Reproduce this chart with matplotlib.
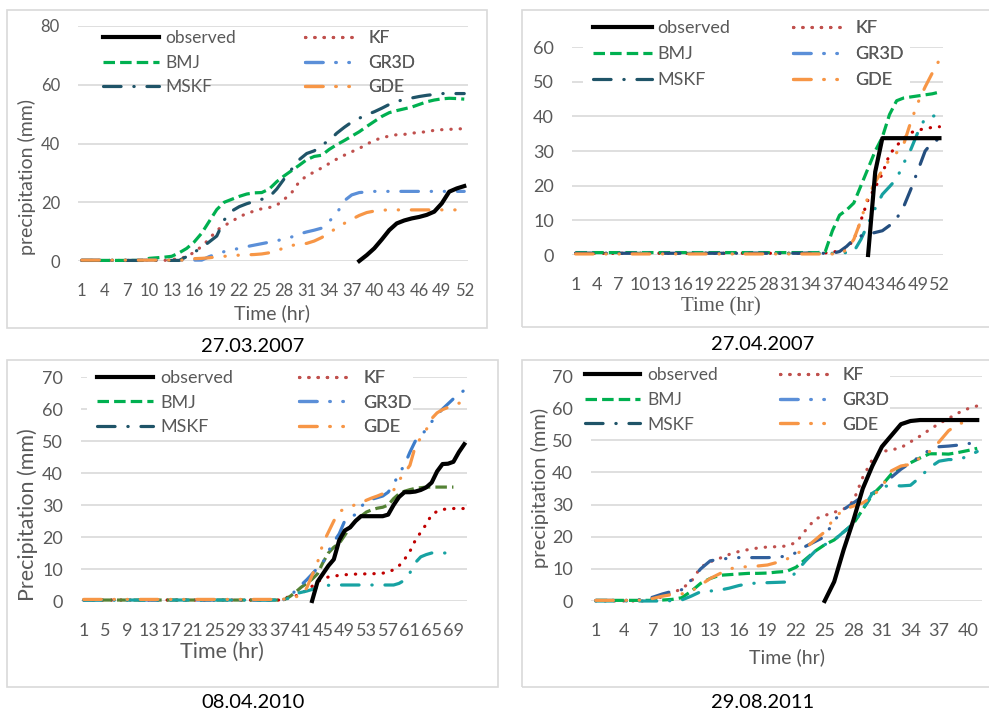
import numpy as np
import matplotlib
matplotlib.use('Agg')
import matplotlib.pyplot as plt
from matplotlib.lines import Line2D
from matplotlib.patches import Rectangle

W, H = 989, 717
plt.rcParams['font.family'] = 'Lato'

# ---------------- data (cumulative precipitation, mm) ----------------
# 27.03.2007, hours 1..52
hours_a = np.arange(1, 53)
obs_a = [None] * 37 + [0, 2, 4.3, 7.3, 10.5, 12.8, 13.8, 14.5, 15, 15.7, 16.8, 19.6, 23.6, 24.7, 25.5]
kf_a = [0.2, 0.2, 0.2, 0.2, 0.2, 0.2, 0.2, 0.2, 0.2, 0.2, 0.2, 0.2, 0.5, 0.8, 1.5, 3, 5, 7.5, 10.5, 12,
        13.5, 15, 16.2, 17, 17.8, 18.2, 19, 21, 23.3, 27, 29, 30.3, 31.7, 33.2, 34.7, 36, 37.2, 38.3, 39.8, 41,
        42, 42.5, 43, 43.1, 43.5, 43.8, 44, 44.5, 44.7, 44.8, 45, 45]
bmj_a = [0.2, 0.2, 0.2, 0.2, 0.2, 0.2, 0.2, 0.2, 0.2, 0.9, 1.1, 1.3, 1.6, 2.8, 4.3, 6.5, 9.5, 13.5, 17.5, 20,
         21, 22, 22.8, 23.2, 23.3, 24.5, 27, 29, 30.8, 32.6, 34.5, 35.6, 36, 38, 39.6, 41, 42.5, 44, 45.8, 47.5,
         49.2, 50.5, 51.2, 51.8, 52.4, 53.3, 54.2, 54.8, 55.2, 55.4, 55.3, 55.1]
gr3d_a = [0.3, 0.3, 0.3, 0.3, 0.3, 0.3, 0.3, 0.3, 0.3, 0.3, 0.3, 0.3, 0.3, 0.3, 0.3, 0.3, 0.3, 1.5, 2.4, 3.2,
          3.8, 4.3, 4.9, 5.4, 5.9, 6.4, 6.9, 7.5, 8.2, 9.2, 9.9, 10.5, 11.2, 13.5, 16.2, 20.5, 22.5, 23.3, 23.5, 23.7,
          23.7, 23.7, 23.7, 23.7, 23.7, 23.7, 23.7, 23.7, 23.7, 23.7, 23.7, 23.7]
mskf_a = [0.2, 0.2, 0.2, 0.2, 0.2, 0.2, 0.2, 0.2, 0.2, 0.2, 0.2, 0.2, 0.2, 0.2, 1.5, 3, 4.6, 6.5, 8.5, 14,
          17, 18.5, 19.5, 20.3, 21, 21.8, 24.5, 28, 31.3, 34.5, 36.6, 37.5, 39.5, 41, 43.5, 45.5, 47.3, 48.6, 49.8, 50.8,
          52, 53.3, 54.3, 55, 55.5, 56, 56.4, 56.7, 57, 57, 57, 57]
gde_a = [0.3, 0.3, 0.3, 0.3, 0.3, 0.3, 0.3, 0.3, 0.3, 0.3, 0.3, 0.3, 0.3, 0.3, 0.3, 0.8, 0.9, 1.1, 1.4, 1.6,
         1.8, 2, 2.1, 2.2, 2.4, 2.8, 3.5, 4.5, 5.3, 5.7, 6, 6.8, 8, 9.7, 11.2, 12.8, 14.2, 15.5, 16.5, 17,
         17.3, 17.4, 17.4, 17.4, 17.4, 17.4, 17.4, 17.4, 17.4, 17.4, 17.4, 17.4]

# 27.04.2007, hours 1..52
hours_b = np.arange(1, 53)
obs_b = [None] * 41 + [0, 24, 33.7, 33.7, 33.7, 33.7, 33.7, 33.7, 33.7, 33.7, 33.7]
kf_b = [0.5, 0.5, 0.5, 0.5, 0.5, 0.5, 0.5, 0.5, 0.5, 0.5, 0.5, 0.5, 0.5, 0.5, 0.5, 0.5, 0.5, 0.5, 0.5, 0.5,
        0.5, 0.5, 0.5, 0.5, 0.5, 0.5, 0.5, 0.5, 0.5, 0.5, 0.5, 0.5, 0.5, 0.5, 0.5, 0.6, 0.8, 1.2, 2, 4.4,
        10, 16, 19.5, 23.5, 29, 31.5, 33.7, 35.3, 36, 36.5, 36.8, 37]
bmj_b = [0.7, 0.7, 0.7, 0.7, 0.7, 0.7, 0.7, 0.7, 0.7, 0.7, 0.7, 0.7, 0.7, 0.7, 0.7, 0.7, 0.7, 0.7, 0.7, 0.7,
         0.7, 0.7, 0.7, 0.7, 0.7, 0.7, 0.7, 0.7, 0.7, 0.7, 0.7, 0.7, 0.7, 0.7, 0.7, 1, 7, 11.5, 13, 15,
         20, 25, 30, 34, 40.5, 44.5, 45.3, 45.6, 45.9, 46.2, 46.5, 47]
gr3d_b = [0.5, 0.5, 0.5, 0.5, 0.5, 0.5, 0.5, 0.5, 0.5, 0.5, 0.5, 0.5, 0.5, 0.5, 0.5, 0.5, 0.5, 0.5, 0.5, 0.5,
          0.5, 0.5, 0.5, 0.5, 0.5, 0.5, 0.5, 0.5, 0.5, 0.5, 0.5, 0.5, 0.5, 0.5, 0.5, 0.5, 0.5, 0.5, 0.7, 1,
          4.5, 9, 13.5, 17.5, 19.7, 22, 26.5, 30.5, 35.5, 39.5, 40, 40.5]
mskf_b = [0.5, 0.5, 0.5, 0.5, 0.5, 0.5, 0.5, 0.5, 0.5, 0.5, 0.5, 0.5, 0.5, 0.5, 0.5, 0.5, 0.5, 0.5, 0.5, 0.5,
          0.5, 0.5, 0.5, 0.5, 0.5, 0.5, 0.5, 0.5, 0.5, 0.5, 0.5, 0.5, 0.5, 0.5, 0.5, 0.5, 0.5, 1, 2.5, 4.5,
          5.5, 6, 6.5, 7, 8.5, 10.5, 14, 19, 24.5, 30, 32.5, 33.5]
gde_b = [0.3, 0.3, 0.3, 0.3, 0.3, 0.3, 0.3, 0.3, 0.3, 0.3, 0.3, 0.3, 0.3, 0.3, 0.3, 0.3, 0.3, 0.3, 0.3, 0.3,
         0.3, 0.3, 0.3, 0.3, 0.3, 0.3, 0.3, 0.3, 0.3, 0.3, 0.3, 0.3, 0.3, 0.3, 0.3, 0.3, 0.3, 0.3, 1.5, 4.5,
         10, 17, 21, 24.5, 27.5, 29.5, 32, 38.5, 44, 48.5, 52.5, 56.3]

# 08.04.2010, hours 1..71
hours_c = np.arange(1, 72)
obs_c = [None] * 42 + [0, 6, 8.5, 11, 13, 19, 22, 23, 25, 26.5, 26.5, 26.5, 26.5, 26.5, 27, 30, 32.5,
                       34, 34, 34.2, 34.7, 35.5, 37, 40.5, 42.8, 42.9, 43.5, 46.5, 49]
kf_c = [0.3, 0.3, 0.3, 0.3, 0.3, 0.3, 0.3, 0.3, 0.3, 0.3, 0.3, 0.3, 0.3, 0.3, 0.3, 0.3, 0.3, 0.3, 0.3, 0.3,
        0.3, 0.3, 0.3, 0.3, 0.3, 0.3, 0.3, 0.3, 0.3, 0.3, 0.3, 0.3, 0.3, 0.3, 0.3, 0.3, 0.3, 1, 1.3, 1.6,
        2.2, 3.5, 4.6, 6, 7, 7.5, 7.8, 8, 8.2, 8.3, 8.4, 8.4, 8.5, 8.5, 8.6, 8.7, 9, 9.8, 11, 13,
        15.5, 19, 21.5, 24, 27, 28, 28.6, 28.8, 28.9, 28.9, 28.9]
bmj_c = [0.3, 0.3, 0.3, 0.3, 0.3, 0.3, 0.3, 0.3, 0.3, 0.3, 0.3, 0.3, 0.3, 0.3, 0.3, 0.3, 0.3, 0.3, 0.3, 0.3,
         0.3, 0.3, 0.3, 0.3, 0.3, 0.3, 0.3, 0.3, 0.3, 0.3, 0.3, 0.3, 0.3, 0.3, 0.3, 0.3, 0.3, 0.5, 1.5, 2.8,
         4.3, 5.5, 6.8, 8.5, 12, 15, 16.8, 18, 20.5, 23, 25, 26.5, 27.8, 28.5, 29, 29.3, 30, 32, 33.5, 34.3,
         34.8, 35.2, 35.4, 35.6, 35.6, 35.6, 35.6, 35.6, 35.6, None, None]
gr3d_c = [0.3, 0.3, 0.3, 0.3, 0.3, 0.3, 0.3, 0.3, 0.3, 0.3, 0.3, 0.3, 0.3, 0.3, 0.3, 0.3, 0.3, 0.3, 0.3, 0.3,
          0.3, 0.3, 0.3, 0.3, 0.3, 0.3, 0.3, 0.3, 0.3, 0.3, 0.3, 0.3, 0.3, 0.3, 0.3, 0.3, 0.3, 0.5, 1.2, 3.5,
          5, 6.6, 8.4, 10.3, 12, 15.5, 18.5, 21, 25, 26.3, 27, 29.5, 31, 31.8, 32.3, 32.8, 34, 36.5, 39.8, 42.5,
          46.5, 50, 51.8, 53.5, 56, 58.2, 60, 61.6, 63.2, 64.8, 65.8]
mskf_c = [0.3, 0.3, 0.3, 0.3, 0.3, 0.3, 0.3, 0.3, 0.3, 0.3, 0.3, 0.3, 0.3, 0.3, 0.3, 0.3, 0.3, 0.3, 0.3, 0.3,
          0.3, 0.3, 0.3, 0.3, 0.3, 0.3, 0.3, 0.3, 0.3, 0.3, 0.3, 0.3, 0.3, 0.3, 0.3, 0.3, 0.3, 0.3, 1.2, 2.3,
          2.7, 3.1, 3.6, 4.2, 4.7, 4.9, 5, 5, 5, 5, 5, 5, 5, 5, 5, 5, 5, 5, 5.5, 6.5,
          8.8, 12, 13.8, 14.5, 15, 15, 15, 15, 15, None, None]
gde_c = [0.5, 0.5, 0.5, 0.5, 0.5, 0.5, 0.5, 0.5, 0.5, 0.5, 0.5, 0.5, 0.5, 0.5, 0.5, 0.5, 0.5, 0.5, 0.5, 0.5,
         0.5, 0.5, 0.5, 0.5, 0.5, 0.5, 0.5, 0.5, 0.5, 0.5, 0.5, 0.5, 0.5, 0.5, 0.5, 0.5, 0.5, 0.6, 0.9, 1.3,
         1.8, 4, 8, 12, 18, 21.5, 25, 28, 28.7, 29.5, 30.1, 30.6, 31.5, 32.2, 32.8, 33.5, 34, 34.6, 37.7, 40,
         42.4, 48.4, 51, 53.5, 57, 58.8, 59.8, 60.5, 61.2, 61.8, 62.2]

# 29.08.2011, hours 1..41
hours_d = np.arange(1, 42)
obs_d = [None] * 24 + [0, 6, 16, 25, 35, 42, 48, 51.5, 55, 56, 56.3, 56.3, 56.3, 56.3, 56.3, 56.3, 56.3]
kf_d = [0, 0, 0, 0, 0, 0, 0.5, 1.3, 2.5, 3.8, 6, 10.5, 12.2, 13.3, 14.5, 15.4, 16, 16.5, 16.8, 16.9,
        17.1, 18.2, 22, 25.5, 26.6, 27.6, 28.6, 31, 38.5, 44, 46.5, 47, 47.7, 49.5, 51.3, 53.3, 55.2, 56.8, 58.5, 59.8,
        60.7]
bmj_d = [0.2, 0.2, 0.2, 0.2, 0.2, 0.2, 0.2, 0.3, 0.5, 1, 3, 5.5, 7, 8, 8.2, 8.4, 8.6, 8.6, 8.7, 9,
         9.2, 10.5, 13, 15.5, 17.5, 19, 21.5, 24, 28.5, 33, 36, 39.5, 41.5, 43, 44.5, 45.8, 45.8, 45.7, 46.2, 46.8,
         47.5]
gr3d_d = [0.2, 0.2, 0.2, 0.2, 0.3, 0.5, 1.2, 2.2, 3, 3.5, 6.5, 10, 12.5, 13, 13.3, 13.5, 13.5, 13.5, 13.5, 13.6,
          14, 15, 17, 18.5, 20, 25, 28.5, 30.5, 32.5, 33.5, 36, 38.5, 41, 43, 45, 47, 48, 48.2, 48.5, 49,
          49]
mskf_d = [0, 0, 0, 0, 0, 0, 0, 0, 0.1, 0.3, 1.5, 2.9, 3.1, 3.4, 4, 4.8, 5.4, 5.6, 5.7, 5.8,
          5.9, 9, 12.5, 15.5, 17.5, 19, 21.5, 24, 28.5, 33.5, 35.5, 36, 35.8, 36, 38.5, 41.5, 43.5, 44, 44, 45,
          46.5]
gde_d = [0.2, 0.2, 0.2, 0.2, 0.2, 0.3, 0.8, 1.5, 2, 2.2, 3, 5, 7, 8.5, 10, 10.5, 10.7, 10.9, 11.2, 12,
         13, 14.5, 16.5, 19, 21.5, 25.8, 28.5, 29.5, 30.5, 32.5, 35.5, 40.5, 42, 42.5, 44.5, 46.5, 49.5, 53, 55, 56,
         56.5]

# ---------------- styles ----------------
line_style = {
    'observed': dict(ls='-', lw=3.0),
    'KF': dict(ls=(0, (0.1, 2.8)), lw=2.3, dash_capstyle='round'),
    'BMJ': dict(ls=(0, (3.6, 1.6)), lw=2.3, dash_capstyle='butt'),
    'GR3D': dict(ls=(0, (5.5, 4.0, 0.1, 4.0, 0.1, 4.0)), lw=2.3, dash_capstyle='round'),
    'MSKF': dict(ls=(0, (5.5, 4.0, 0.1, 4.0)), lw=2.3, dash_capstyle='round'),
    'GDE': dict(ls=(0, (5.5, 4.0, 0.1, 4.0, 0.1, 4.0)), lw=2.3, dash_capstyle='round'),
}
legend_color = {'observed': 'black', 'KF': '#C0504D', 'BMJ': '#00B050',
                'GR3D': '#5B8FD8', 'MSKF': '#1F5468', 'GDE': '#F79646'}
grey = '#595959'
grid_c = '#D9D9D9'

fig = plt.figure(figsize=(W / 100, H / 100), dpi=100)


def px_rect(l, t, r, b):
    return [l / W, 1 - b / H, (r - l) / W, (b - t) / H]


def frame(l, t, r, b):
    fig.patches.append(Rectangle((l / W, 1 - b / H), (r - l) / W, (b - t) / H, transform=fig.transFigure,
                                 fill=False, edgecolor=grid_c, lw=1.2))


def legend_col(ax, labels, hx, y0, rowsp, fs, hpx, gap):
    # one legend column: handle from hx px, first row centred at y0 px
    fs_px = fs * 100 / 72
    handles = [Line2D([], [], color=legend_color[n], **line_style[n]) for n in labels]
    lg = ax.legend(handles, labels, loc='upper left',
                   bbox_to_anchor=(hx / W, 1 - (y0 - 0.42 * fs_px) / H),
                   bbox_transform=fig.transFigure, borderaxespad=0, borderpad=0,
                   fontsize=fs, handlelength=hpx / fs_px, handletextpad=gap / fs_px,
                   labelspacing=(rowsp - 0.87 * fs_px) / fs_px, labelcolor=grey, frameon=False)
    lg.set_zorder(5)
    ax.add_artist(lg)


def panel(rect, hours, series, colors, ymax, ystep, every, tfs, leg, box=None):
    ax = fig.add_axes(px_rect(*rect))
    for name in ['KF', 'BMJ', 'GR3D', 'MSKF', 'GDE', 'observed']:
        y = np.array([np.nan if v is None else v for v in series[name]], dtype=float)
        ax.plot(hours, y, color=colors[name], clip_on=False, zorder=3, **line_style[name])
    ax.set_xlim(0.5, len(hours) + 0.5)
    ax.set_ylim(0, ymax)
    ax.set_yticks(np.arange(0, ymax + 1, ystep))
    ax.set_xticks(hours[::every])
    ax.set_xticklabels([str(h) for h in hours[::every]])
    ax.tick_params(axis='both', length=0, labelsize=tfs, labelcolor=grey)
    ax.tick_params(axis='y', pad=13)
    ax.tick_params(axis='x', pad=16)
    for s in ax.spines.values():
        s.set_visible(False)
    ax.grid(axis='y', color=grid_c, lw=1.2)
    ax.set_axisbelow(True)

    # white legend background hiding the gridlines
    if box is not None:
        l, t, r, b = box
        ax.add_patch(Rectangle((l / W, 1 - b / H), (r - l) / W, (b - t) / H, transform=fig.transFigure,
                               facecolor='white', edgecolor='none', zorder=2, clip_on=False))

    x1, x2, y0, rowsp, fs, h1, g1, h2, g2 = leg
    legend_col(ax, ['observed', 'BMJ', 'MSKF'], x1, y0, rowsp, fs, h1, g1)
    legend_col(ax, ['KF', 'GR3D', 'GDE'], x2, y0, rowsp, fs, h2, g2)
    return ax


# panel 1 : 27.03.2007
frame(7, 10, 487, 328)
panel((78, 26, 468, 261), hours_a,
      dict(observed=obs_a, KF=kf_a, BMJ=bmj_a, GR3D=gr3d_a, MSKF=mskf_a, GDE=gde_a),
      dict(observed='black', KF='#C0504D', BMJ='#00B050', GR3D='#5B8FD8', MSKF='#1F5468', GDE='#F79646'),
      80, 20, 3, 12, (103, 305, 37, 24, 12.5, 56, 6, 53, 10))
fig.text(27 / W, 1 - 177 / H, 'precipitation (mm)', rotation=90, ha='center', va='center', fontsize=14, color=grey)
fig.text(272 / W, 1 - 313 / H, 'Time (hr)', ha='center', va='center', fontsize=14, color=grey)
fig.text(253 / W, 1 - 347 / H, '27.03.2007', ha='center', va='center', fontsize=14.5, color='black')

# panel 2 : 27.04.2007
frame(522, 10, 995, 327)
panel((572, 47, 943, 255), hours_b,
      dict(observed=obs_b, KF=kf_b, BMJ=bmj_b, GR3D=gr3d_b, MSKF=mskf_b, GDE=gde_b),
      dict(observed='black', KF='#C00000', BMJ='#00B050', GR3D='#16A0A0', MSKF='#244E7E', GDE='#F79646'),
      60, 10, 3, 13, (593, 793, 28, 25.5, 13, 59, 5, 55, 7), box=(583, 15, 910, 93))
fig.text(721 / W, 1 - 307 / H, 'Time (hr)', ha='center', va='center', fontsize=15, color=grey,
         family='Liberation Serif')
fig.text(763 / W, 1 - 345 / H, '27.04.2007', ha='center', va='center', fontsize=14.5, color='black')

# panel 3 : 08.04.2010
frame(7, 360, 498, 687)
panel((81, 377, 467, 601), hours_c,
      dict(observed=obs_c, KF=kf_c, BMJ=bmj_c, GR3D=gr3d_c, MSKF=mskf_c, GDE=gde_c),
      dict(observed='black', KF='#C00000', BMJ='#548235', GR3D='#3D7DCB', MSKF='#17A2A2', GDE='#F79646'),
      70, 10, 4, 13, (97, 299, 378, 24, 13, 56, 7, 54, 10), box=(87, 366, 413, 436))
fig.text(28 / W, 1 - 515 / H, 'Precipitation (mm)', rotation=90, ha='center', va='center', fontsize=15.5, color=grey)
fig.text(222 / W, 1 - 652 / H, 'Time (hr)', ha='center', va='center', fontsize=15.5, color=grey)
fig.text(253 / W, 1 - 703 / H, '08.04.2010', ha='center', va='center', fontsize=14.5, color='black')

# panel 4 : 29.08.2011
frame(522, 360, 995, 687)
panel((591, 376, 982, 601), hours_d,
      dict(observed=obs_d, KF=kf_d, BMJ=bmj_d, GR3D=gr3d_d, MSKF=mskf_d, GDE=gde_d),
      dict(observed='black', KF='#C0504D', BMJ='#00B050', GR3D='#31609C', MSKF='#17A2A2', GDE='#F79646'),
      70, 10, 3, 13, (585, 780, 374, 24, 12.5, 55, 7, 52, 10), box=(578, 364, 890, 432))
fig.text(540 / W, 1 - 488 / H, 'precipitation (mm)', rotation=90, ha='center', va='center', fontsize=14.5, color=grey)
fig.text(787 / W, 1 - 657 / H, 'Time (hr)', ha='center', va='center', fontsize=14, color=grey)
fig.text(763 / W, 1 - 703 / H, '29.08.2011', ha='center', va='center', fontsize=14.5, color='black')

fig.savefig('out.png', dpi=100)
